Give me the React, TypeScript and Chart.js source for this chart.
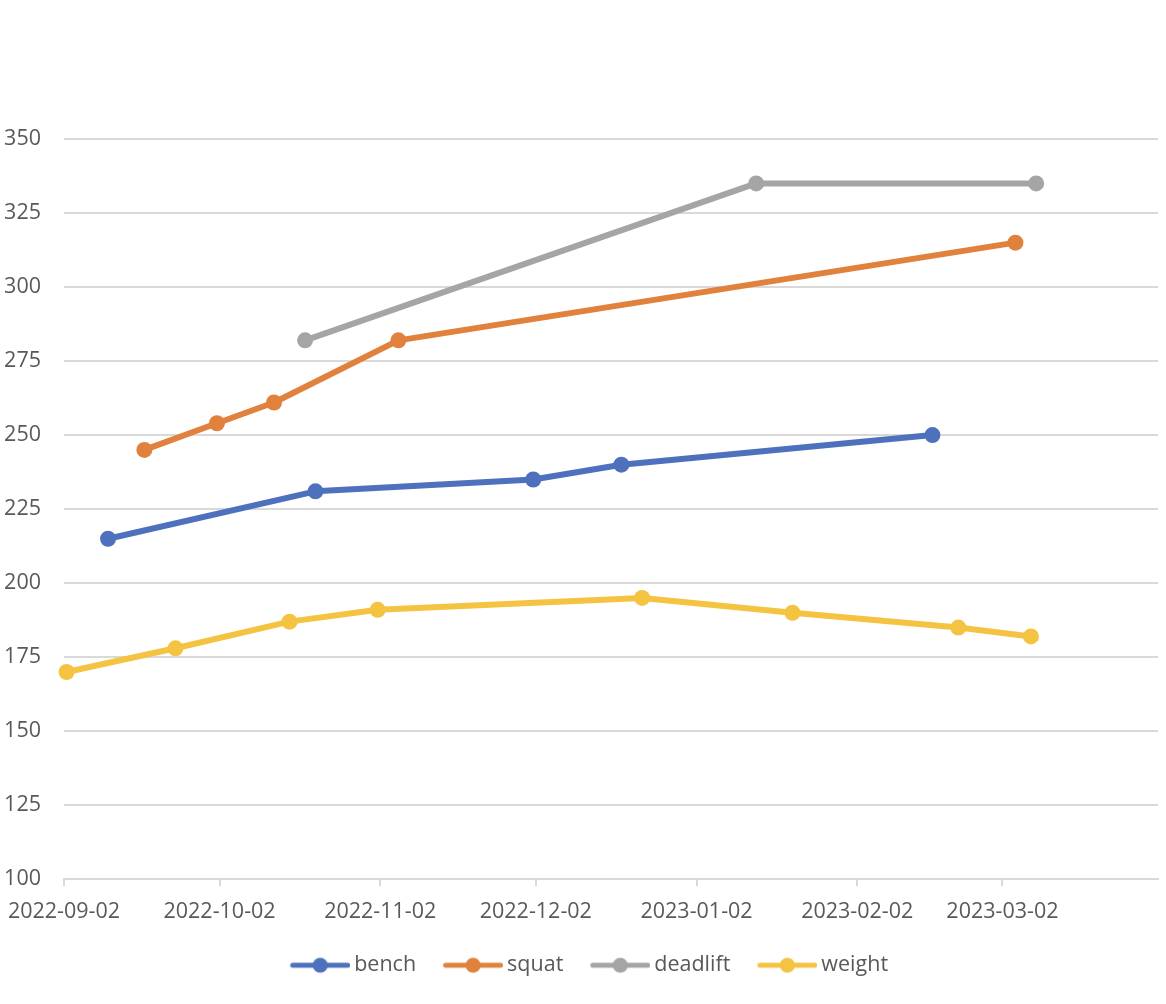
import React from "react";
import { Chart, registerables } from "chart.js";

Chart.register(...registerables);

// dates are kept as strings and turned into day numbers for a linear x axis
const axisStart = "2022-09-02";
const axisEnd = "2023-04-01";
const tickDates = ["2022-09-02", "2022-10-02", "2022-11-02", "2022-12-02", "2023-01-02", "2023-02-02", "2023-03-02"];

const benchDates = ["2022-09-10", "2022-10-20", "2022-12-01", "2022-12-18", "2023-02-16"];
const benchValues = [215, 231, 235, 240, 250];

const squatDates = ["2022-09-17", "2022-10-01", "2022-10-12", "2022-11-05", "2023-03-04"];
const squatValues = [245, 254, 261, 282, 315];

const deadliftDates = ["2022-10-18", "2023-01-13", "2023-03-08"];
const deadliftValues = [282, 335, 335];

const weightDates = ["2022-09-02", "2022-09-23", "2022-10-15", "2022-11-01", "2022-12-22", "2023-01-20", "2023-02-21", "2023-03-07"];
const weightValues = [170, 178, 187, 191, 195, 190, 185, 182];

const DAY = 86400000;
const toUtc = (s: string) => {
    const [y, m, d] = s.split("-").map(Number);
    return Date.UTC(y, m - 1, d);
};
const startMs = toUtc(axisStart);
const toDay = (s: string) => Math.round((toUtc(s) - startMs) / DAY);
const dayLabel = (v: number) => new Date(startMs + v * DAY).toISOString().slice(0, 10);

// like a spreadsheet date axis, a point sits in the middle of its day
const points = (dates: string[], values: number[]) => dates.map((d, i) => ({ x: toDay(d) + 0.5, y: values[i] }));

const textColor = "#595959";
const gridColor = "#d9d9d9";
const fontFamily = "'Open Sans', sans-serif";

// line + dot picture for each legend entry; the empty strip on the left
// pushes the visible mark to the right of the legend box centre
function legendIcon(color: string) {
    const c = document.createElement("canvas");
    c.width = 87;
    c.height = 18;
    const ctx = c.getContext("2d");
    if (ctx) {
        ctx.strokeStyle = color;
        ctx.lineWidth = 5;
        ctx.lineCap = "round";
        ctx.beginPath();
        ctx.moveTo(29.5, 9);
        ctx.lineTo(84.5, 9);
        ctx.stroke();
        ctx.fillStyle = color;
        ctx.beginPath();
        ctx.arc(57, 9, 7.6, 0, Math.PI * 2);
        ctx.fill();
    }
    return c;
}

export default function App() {
    const canvasRef = React.useRef<HTMLCanvasElement | null>(null);

    React.useEffect(() => {
        const canvas = canvasRef.current;
        if (!canvas) return;

        const series = [
            { label: "bench", color: "#4e71be", data: points(benchDates, benchValues) },
            { label: "squat", color: "#e0823d", data: points(squatDates, squatValues) },
            { label: "deadlift", color: "#a5a5a5", data: points(deadliftDates, deadliftValues) },
            { label: "weight", color: "#f5c342", data: points(weightDates, weightValues) },
        ];
        const icons = series.map((s) => legendIcon(s.color));
        const tickDays = tickDates.map(toDay);

        const chart = new Chart(canvas, {
            type: "line",
            data: {
                datasets: series.map((s) => ({
                    label: s.label,
                    data: s.data,
                    borderColor: s.color,
                    backgroundColor: s.color,
                    borderWidth: 6,
                    borderJoinStyle: "round",
                    borderCapStyle: "round",
                    pointRadius: 8,
                    pointBorderWidth: 0,
                    pointBackgroundColor: s.color,
                    tension: 0,
                    clip: false,
                })),
            },
            options: {
                animation: false,
                responsive: false,
                devicePixelRatio: 1,
                layout: { padding: { left: 0, right: 8, top: 139, bottom: 18 } },
                plugins: {
                    tooltip: { enabled: false },
                    legend: {
                        position: "bottom",
                        labels: {
                            usePointStyle: true,
                            pointStyleWidth: 73.5,
                            padding: 6.75,
                            color: textColor,
                            font: { family: fontFamily, size: 21.5 },
                            generateLabels: (c: any) =>
                                c.data.datasets.map((ds: any, i: number) => ({
                                    text: ds.label,
                                    fillStyle: ds.borderColor,
                                    strokeStyle: ds.borderColor,
                                    lineWidth: 0,
                                    hidden: false,
                                    datasetIndex: i,
                                    pointStyle: icons[i],
                                    fontColor: textColor,
                                })),
                        },
                    },
                },
                scales: {
                    x: {
                        type: "linear",
                        min: 0,
                        max: toDay(axisEnd),
                        afterBuildTicks: (scale: any) => {
                            scale.ticks = tickDays.map((v) => ({ value: v }));
                        },
                        afterFit: (scale: any) => {
                            scale.height = 68.5;
                            scale.paddingLeft = 0;
                            scale.paddingRight = 0;
                        },
                        ticks: {
                            autoSkip: false,
                            maxRotation: 0,
                            padding: 13,
                            color: textColor,
                            font: { family: fontFamily, size: 21.5 },
                            callback: (v: any) => dayLabel(Number(v)),
                        },
                        grid: {
                            drawOnChartArea: false,
                            drawTicks: true,
                            tickLength: 7,
                            color: gridColor,
                            lineWidth: 2,
                        },
                        border: { display: true, color: gridColor, width: 2 },
                    },
                    y: {
                        min: 100,
                        max: 350,
                        afterFit: (scale: any) => {
                            scale.width = 64;
                        },
                        ticks: {
                            stepSize: 25,
                            padding: 23,
                            color: textColor,
                            font: { family: fontFamily, size: 21.5 },
                        },
                        grid: { color: gridColor, lineWidth: 2, drawTicks: false },
                        border: { display: false },
                    },
                },
            } as any,
        });

        return () => {
            chart.destroy();
        };
    }, []);

    return (
        <div style={{ position: "absolute", left: 0, top: 0, width: 1166, height: 1004, background: "#fff" }}>
            <canvas ref={canvasRef} width={1166} height={1004}></canvas>
        </div>
    );
}
